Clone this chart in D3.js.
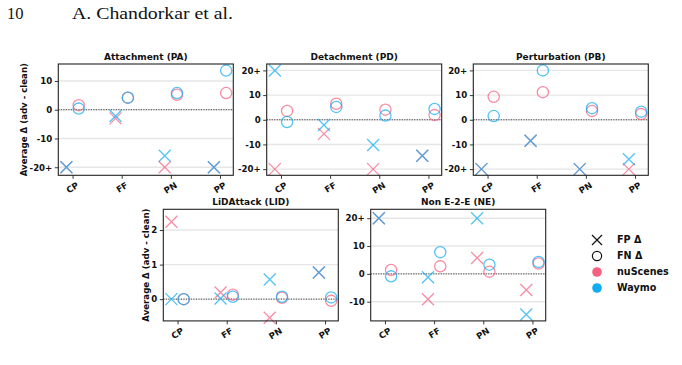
<!DOCTYPE html>
<html><head><meta charset="utf-8">
<script src="https://cdn.jsdelivr.net/npm/d3@7"></script>
<style>body{margin:0;background:#fff}svg{display:block}</style>
</head><body><svg id="c" width="682" height="365"></svg>
<script>
const categories = ["CP","FF","PN","PP"];
const titles = ["Attachment (PA)","Detachment (PD)","Perturbation (PB)","LiDAttack (LID)","Non E-2-E (NE)"];
// FP / FN deltas, rows = panels (PA, PD, PB, LID, NE), cols = categories
const fpNuScenes = [[-20,-3,-20,-20],[-20,-5.7,-20,-14.6],[-20,-8.5,-20,-20],[2.24,0.19,-0.54,0.77],[20,-9.1,5.7,-5.8]];
const fpWaymo    = [[-20,-2.2,-16,-20],[20,-2.1,-10.2,-14.6],[-20,-8.5,-20,-16],[0.0,0.02,0.57,0.77],[20,-1.2,20,-14.6]];
const fnNuScenes = [[1.6,4.2,5.2,5.8],[3.6,6.5,4.1,1.9],[9.3,11.2,3.6,2.3],[0.0,0.13,0.04,-0.05],[1.4,2.7,0.8,3.7]];
const fnWaymo    = [[0.4,4.2,5.8,13.6],[-0.9,5.2,1.7,4.4],[1.5,20,4.7,3.3],[0.0,0.07,0.07,0.05],[-0.9,7.8,3.3,4.3]];
const yTicks = [[-20,-10,0,10],[-20,-10,0,10,20],[-20,-10,0,10,20],[0,1,2],[-10,0,10,20]];
const yTickLabels = [["-20+","-10","0","10"],["-20+","-10","0","10","20+"],["-20+","-10","0","10","20+"],["0","1","2"],["-10","0","10","20+"]];
const yDomains = [[-22.8,15.9],[-22.5,22.6],[-22.5,22.6],[-0.63,2.6],[-16.9,23.2]];
const legendItems = ["FP Δ","FN Δ","nuScenes","Waymo"];

const COL_NU = "#f4607f", COL_WA = "#10acf2";
const layout = [
  {x:58.3,y:64,w:175,h:111.3},
  {x:266.7,y:64,w:175,h:111.3},
  {x:473.3,y:64,w:175,h:111.3},
  {x:163.3,y:209.3,w:175,h:111.6},
  {x:370.7,y:209.3,w:175,h:111.6}
];
const svg = d3.select("#c");
const FONT = "DejaVu Sans, sans-serif";

// page header
svg.append("text").attr("x",7).attr("y",18.5).attr("font-family","Liberation Serif, serif")
  .attr("font-size",16.5).attr("fill","#111").text("10");
svg.append("text").attr("x",72).attr("y",18.5).attr("font-family","Liberation Serif, serif")
  .attr("font-size",16.5).attr("fill","#111").attr("textLength",161).attr("lengthAdjust","spacingAndGlyphs")
  .text("A. Chandorkar et al.");

function xMark(g, cx, cy, color){
  const s = 6;
  g.append("path").attr("d",`M${cx-s},${cy-s}L${cx+s},${cy+s}M${cx-s},${cy+s}L${cx+s},${cy-s}`)
   .attr("stroke",color).attr("stroke-width",1.3).attr("fill","none").attr("stroke-opacity",0.72);
}
function oMark(g, cx, cy, color){
  g.append("circle").attr("cx",cx).attr("cy",cy).attr("r",5.6)
   .attr("stroke",color).attr("stroke-width",1.3).attr("fill","none").attr("stroke-opacity",0.72);
}

layout.forEach((L, p) => {
  const g = svg.append("g").attr("transform",`translate(${L.x},${L.y})`);
  const x = d3.scaleLinear().domain([-0.29,3.27]).range([0,L.w]);
  const y = d3.scaleLinear().domain(yDomains[p]).range([L.h,0]);
  // grid
  g.selectAll(".grid").data(yTicks[p]).enter().append("line")
    .attr("x1",0).attr("x2",L.w).attr("y1",d=>y(d)).attr("y2",d=>y(d))
    .attr("stroke","#e6e6e6").attr("stroke-width",1.4);
  // zero dotted line
  g.append("line").attr("x1",0).attr("x2",L.w).attr("y1",y(0)).attr("y2",y(0))
    .attr("stroke","#444").attr("stroke-width",1).attr("stroke-dasharray","1.2,1.3");
  // markers: nuScenes first, Waymo on top
  const off = 0.125;
  categories.forEach((c,i)=>{
    xMark(g, x(i-off), y(fpNuScenes[p][i]), COL_NU);
    oMark(g, x(i+off), y(fnNuScenes[p][i]), COL_NU);
  });
  categories.forEach((c,i)=>{
    xMark(g, x(i-off), y(fpWaymo[p][i]), COL_WA);
    oMark(g, x(i+off), y(fnWaymo[p][i]), COL_WA);
  });
  // frame
  g.append("rect").attr("width",L.w).attr("height",L.h).attr("fill","none")
    .attr("stroke","#222").attr("stroke-width",1.1);
  // y axis
  const ya = d3.axisLeft(y).tickValues(yTicks[p]).tickFormat((d,i)=>yTickLabels[p][i]).tickSize(3.5).tickPadding(2.5);
  const yg = g.append("g").call(ya);
  yg.select(".domain").remove();
  yg.selectAll("line").attr("stroke","#222").attr("stroke-width",0.9);
  yg.selectAll("text").attr("font-family",FONT).attr("font-weight","bold").attr("font-size",8.6).attr("fill","#111");
  // x axis
  const xa = d3.axisBottom(x).tickValues(d3.range(categories.length)).tickFormat(i=>categories[i]).tickSize(3.5).tickPadding(2);
  const xg = g.append("g").attr("transform",`translate(0,${L.h})`).call(xa);
  xg.select(".domain").remove();
  xg.selectAll("line").attr("stroke","#222").attr("stroke-width",0.9);
  xg.selectAll("text").attr("font-family",FONT).attr("font-weight","bold").attr("font-size",8.6).attr("fill","#111")
    .attr("text-anchor","end").attr("dy","0.6em").attr("dx","0.1em").attr("transform","translate(0,3) rotate(-32)");
  // title
  g.append("text").attr("x",L.w/2).attr("y",-4).attr("text-anchor","middle")
    .attr("font-family",FONT).attr("font-weight","bold").attr("font-size",9).attr("fill","#111").text(titles[p]);
  if (p===0 || p===3){
    const lx = p===0 ? -31.5 : -14.5;
    g.append("text").attr("transform",`translate(${lx},${L.h/2}) rotate(-90)`).attr("text-anchor","middle")
      .attr("font-family",FONT).attr("font-weight","bold").attr("font-size",8.6).attr("fill","#111")
      .text("Average Δ (adv - clean)");
  }
});

// legend
const lg = svg.append("g").attr("transform","translate(597,240)");
legendItems.forEach((t,i)=>{
  const yy = i*16;
  if (i===0){
    lg.append("path").attr("d",`M-5,${yy-5}L5,${yy+5}M-5,${yy+5}L5,${yy-5}`).attr("stroke","#111").attr("stroke-width",1.2);
  } else if (i===1){
    lg.append("circle").attr("cy",yy).attr("r",4.6).attr("fill","none").attr("stroke","#111").attr("stroke-width",1.2);
  } else {
    lg.append("circle").attr("cy",yy).attr("r",4.8).attr("fill", i===2?COL_NU:COL_WA);
  }
  lg.append("text").attr("x",20).attr("y",yy).attr("dy","0.36em").attr("font-family",FONT)
    .attr("font-weight","bold").attr("font-size",9.6).attr("fill","#111").text(t);
});
</script></body></html>
